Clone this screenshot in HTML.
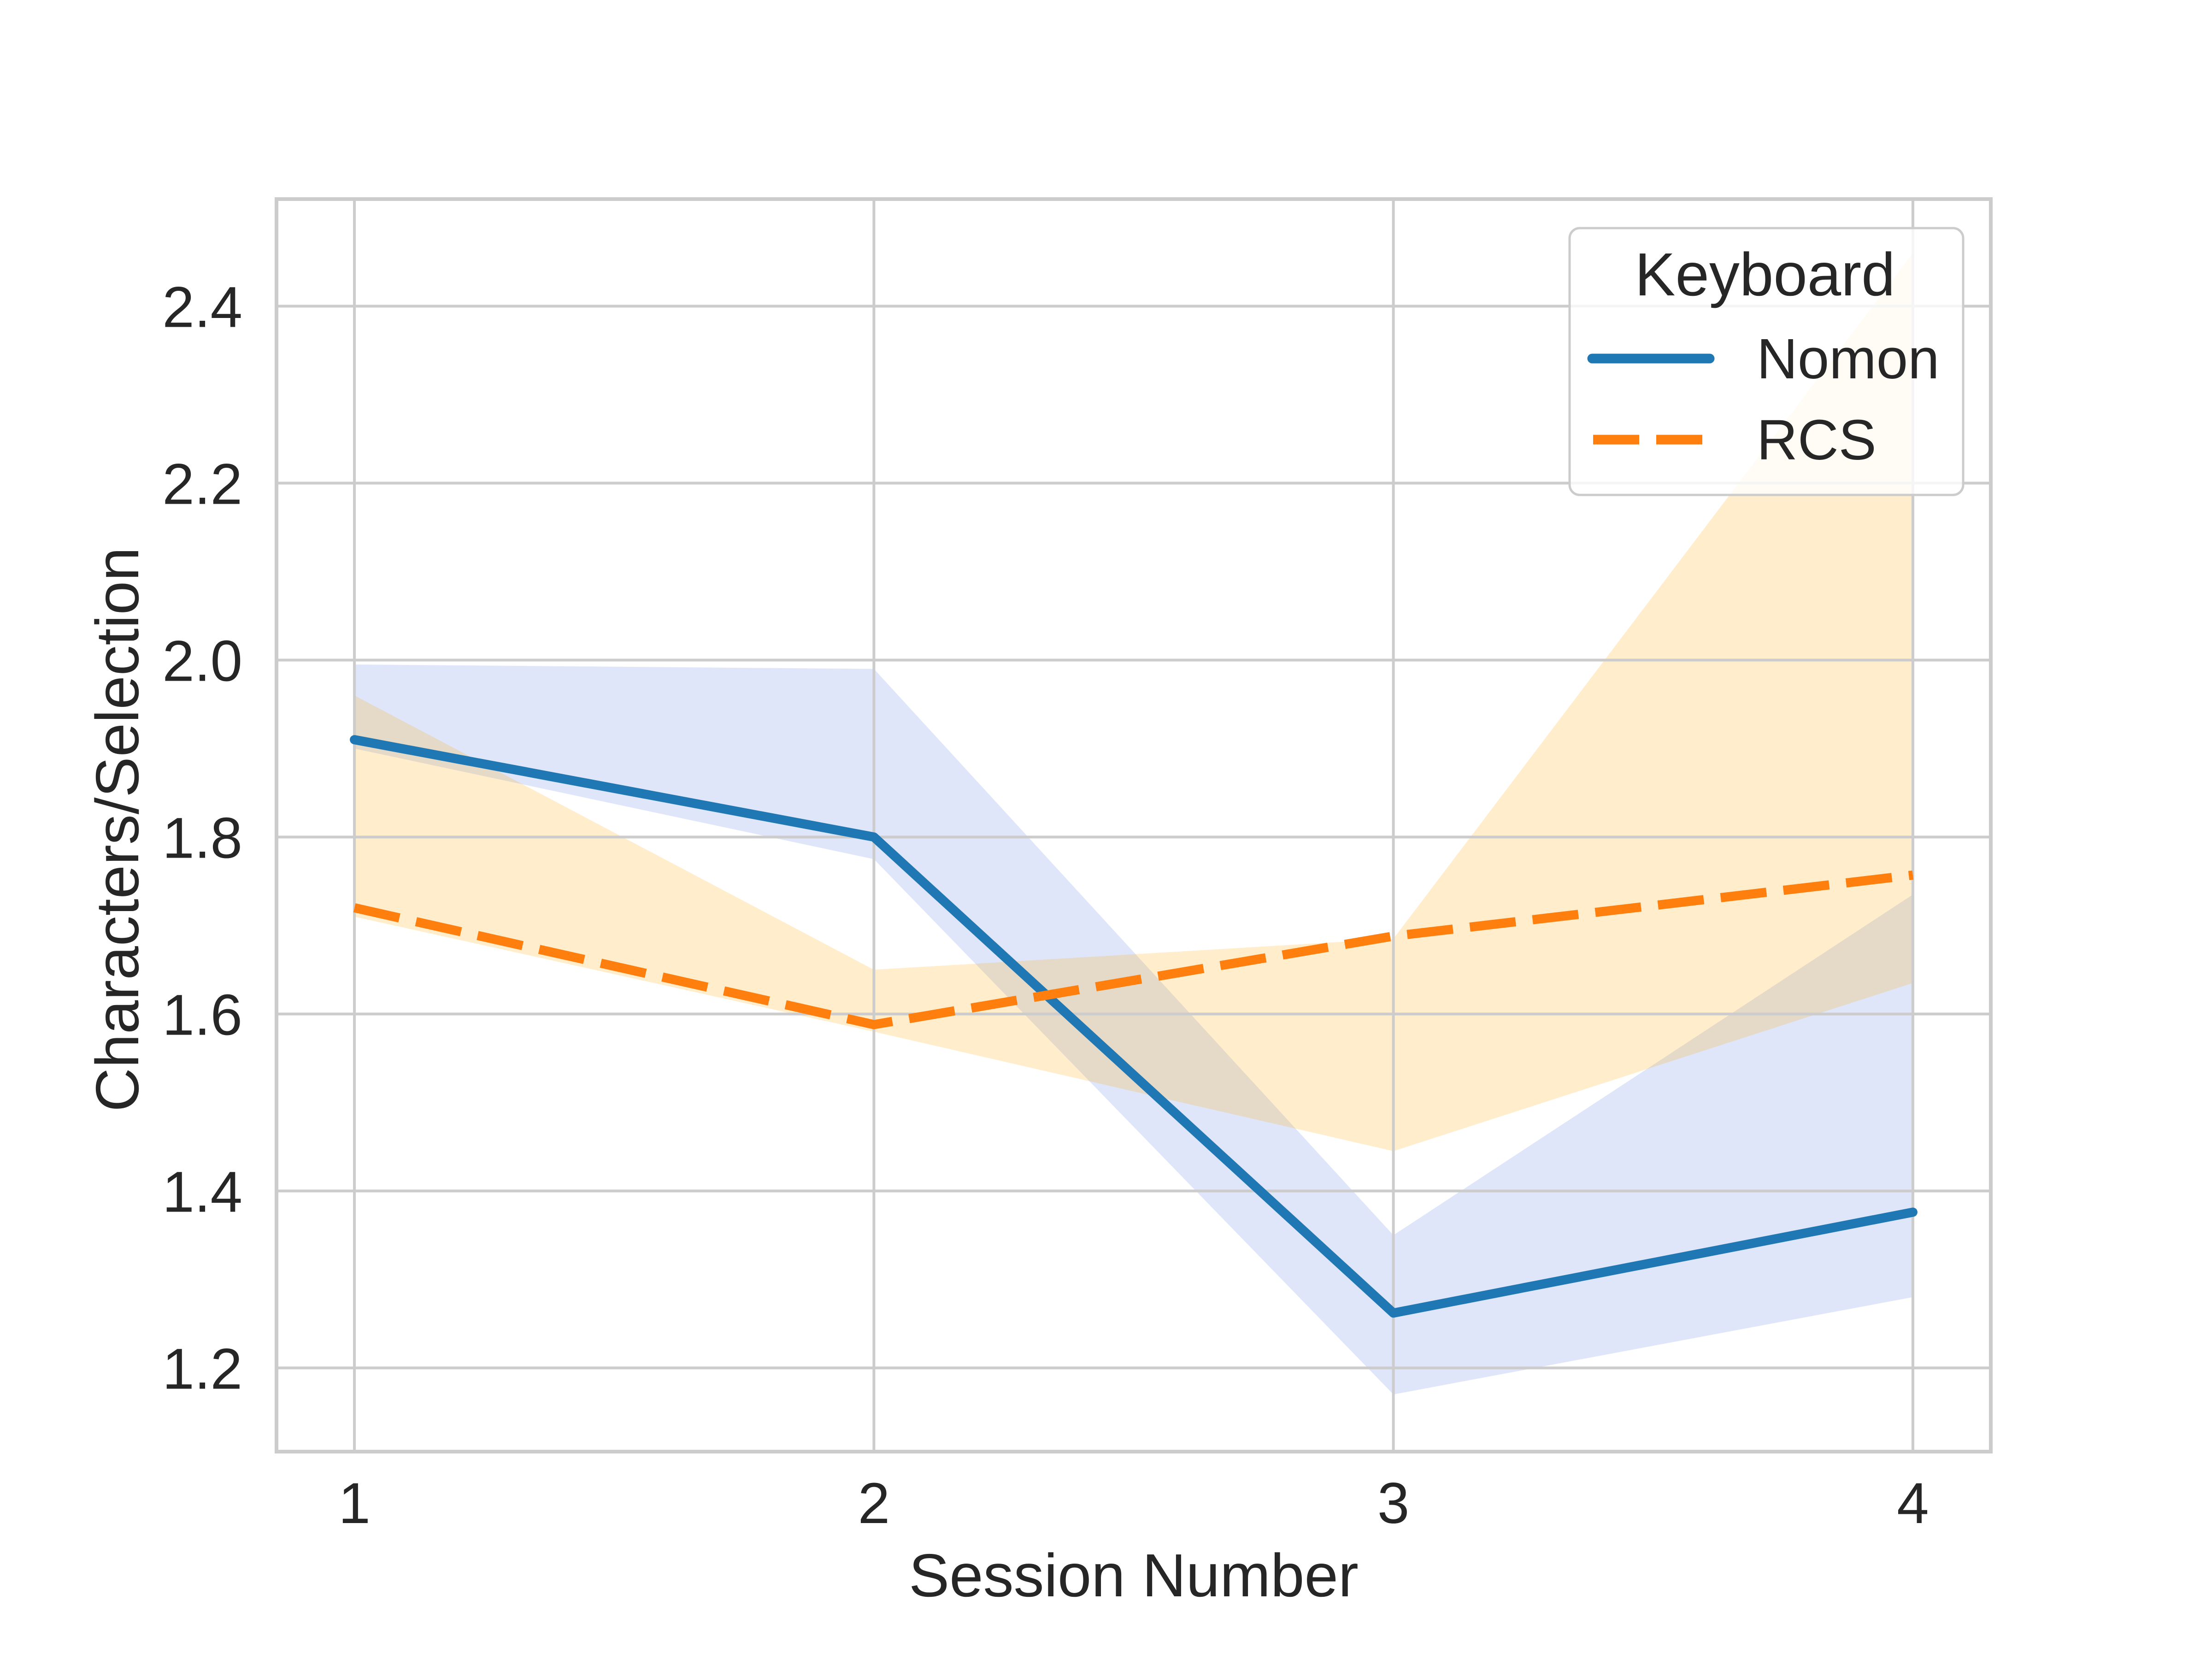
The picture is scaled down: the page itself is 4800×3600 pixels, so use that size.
<!DOCTYPE html>
<html><head><meta charset="utf-8"><style>
html,body{margin:0;padding:0;background:#fff}
svg{display:block}
text{font-family:"Liberation Sans",Arial,sans-serif;fill:#262626}
</style></head><body>
<svg id="chart" width="4800" height="3600" viewBox="0 0 4800 3600" xmlns="http://www.w3.org/2000/svg">
<rect width="4800" height="3600" fill="#fff"/>
<g id="bands"></g><g id="grid"></g><g id="lines"></g><g id="ticks"></g>
<text x="2460" y="3464" font-size="132" text-anchor="middle">Session Number</text>
<text transform="translate(300,1800) rotate(-90)" font-size="132" text-anchor="middle">Characters/Selection</text>
<g>
<rect x="3406" y="495" width="854" height="579" rx="22" fill="#fff" fill-opacity="0.8" stroke="#cccccc" stroke-width="5"/>
<text x="3830" y="641" font-size="132" text-anchor="middle">Keyboard</text>
<line x1="3455" y1="778" x2="3710" y2="778" stroke="#1f77b4" stroke-width="21" stroke-linecap="round"/>
<text x="3812" y="821" font-size="123">Nomon</text>
<line x1="3457" y1="954" x2="3696" y2="954" stroke="#ff7f0e" stroke-width="21" stroke-dasharray="100,37"/>
<text x="3812" y="997" font-size="123">RCS</text>
</g>
</svg>
<script>
const sessions=[1,2,3,4];
const yTicks=[1.2,1.4,1.6,1.8,2.0,2.2,2.4];
const yTickLabels=["1.2","1.4","1.6","1.8","2.0","2.2","2.4"];
const nomonMean=[1.91,1.80,1.262,1.376];
const nomonLow=[1.90,1.775,1.17,1.28];
const nomonHigh=[1.995,1.99,1.35,1.735];
const rcsMean=[1.72,1.588,1.688,1.757];
const rcsLow=[1.71,1.58,1.445,1.635];
const rcsHigh=[1.96,1.65,1.685,2.46];

const L=600,R=4320,T=432,B=3150;
const xMin=0.85,xMax=4.15,yMax=2.521,pxPerUnit=1920;
const X=v=>L+(v-xMin)/(xMax-xMin)*(R-L);
const Y=v=>T+(yMax-v)*pxPerUnit;
const NS="http://www.w3.org/2000/svg";
function mk(tag,parent,attrs){const e=document.createElementNS(NS,tag);for(const k in attrs)e.setAttribute(k,attrs[k]);document.getElementById(parent).appendChild(e);return e;}

sessions.forEach((s,i)=>{
 const g=mk('line','grid',{x1:X(s),x2:X(s),y1:T,y2:B,stroke:'#cccccc','stroke-width':6});
 
 
 const t=mk('text','ticks',{x:X(s),y:3305,'font-size':125,'text-anchor':'middle'});
 t.textContent=String(s);
 
 
});
yTicks.forEach((v,i)=>{
 const g=mk('line','grid',{x1:L,x2:R,y1:Y(v),y2:Y(v),stroke:'#cccccc','stroke-width':6});
 
 
 const t=mk('text','ticks',{x:526,y:Y(v)+45,'font-size':125,'text-anchor':'end'});
 t.textContent=yTickLabels[i];
 
 
});
const sp=mk('rect','grid',{x:L,y:T,width:R-L,height:B-T,fill:'none',stroke:'#cccccc','stroke-width':8});



function band(low,high,color,op,name){
 let d='M'+sessions.map((s,i)=>X(s)+','+Y(high[i])).join('L');
 d+='L'+sessions.slice().reverse().map((s,j)=>{const i=sessions.length-1-j;return X(s)+','+Y(low[i]);}).join('L')+'Z';
 const p=mk('path','bands',{d:d,fill:color,'fill-opacity':op});
 
 
}
band(nomonLow,nomonHigh,'#4169e1',0.17,'nomon-ci-band');
band(rcsLow,rcsHigh,'#ffa500',0.2,'rcs-ci-band');

function line(vals,color,dash,name){
 const pts=sessions.map((s,i)=>X(s)+','+Y(vals[i])).join(' ');
 const a={points:pts,fill:'none',stroke:color,'stroke-width':20,'stroke-linejoin':'round'};
 if(dash)a['stroke-dasharray']=dash; else a['stroke-linecap']='round';
 const p=mk('polyline','lines',a);
 
 
}
line(nomonMean,'#1f77b4',null,'nomon-line');
line(rcsMean,'#ff7f0e','100,37','rcs-line');
</script>
</body></html>
